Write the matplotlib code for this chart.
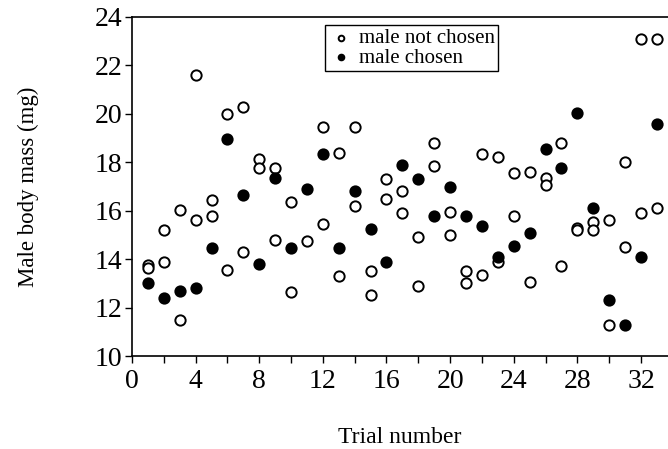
import matplotlib
matplotlib.use('Agg')
import matplotlib.pyplot as plt

# trial number / body mass of males that were not chosen
trial_not_chosen = [1, 1, 2, 2, 3, 3, 4, 4, 5, 5, 6, 6, 7, 7, 8, 8, 9, 9, 10, 10,
                    11, 12, 12, 13, 13, 14, 14, 15, 15, 16, 16, 17, 17, 18, 18,
                    19, 19, 20, 20, 21, 21, 22, 22, 23, 23, 24, 24, 25, 25,
                    26, 26, 27, 27, 28, 28, 29, 29, 30, 30, 31, 31, 32, 32, 33, 33]
mass_not_chosen = [13.75, 13.65, 15.2, 13.9, 16.05, 11.5, 21.6, 15.6, 16.45, 15.8,
                   20.0, 13.55, 20.3, 14.3, 18.15, 17.75, 17.75, 14.8, 16.35, 12.65,
                   14.75, 19.45, 15.45, 18.4, 13.3, 19.45, 16.2, 13.5, 12.5,
                   17.3, 16.5, 16.8, 15.9, 14.9, 12.9, 18.8, 17.85, 15.95, 15.0,
                   13.5, 13.0, 18.35, 13.35, 18.2, 13.9, 17.55, 15.8, 17.6, 13.05,
                   17.35, 17.05, 18.8, 13.7, 15.3, 15.2, 15.55, 15.2, 15.6, 11.3,
                   18.0, 14.5, 23.1, 15.9, 23.1, 16.1]

# one chosen male per trial
trial_chosen = list(range(1, 34))
mass_chosen = [13.0, 12.4, 12.7, 12.8, 14.45, 18.95, 16.65, 13.8, 17.35, 14.45,
               16.9, 18.35, 14.45, 16.8, 15.25, 13.9, 17.9, 17.3, 15.8, 17.0,
               15.8, 15.35, 14.1, 14.55, 15.1, 18.55, 17.75, 20.05, 16.1, 12.3,
               11.3, 14.1, 19.6]

x_ticks = list(range(0, 34, 2))
x_labels = [str(t) if t % 4 == 0 else '' for t in x_ticks]
y_ticks = list(range(10, 25, 2))

plt.rcParams['font.family'] = ['Liberation Serif', 'DejaVu Serif']

fig = plt.figure(figsize=(6.68, 4.49), dpi=100)
ax = fig.add_axes([132 / 668, 1 - 356 / 449, 536 / 668, 339 / 449])

ax.scatter(trial_not_chosen, mass_not_chosen, s=55, facecolor='white',
           edgecolor='black', linewidth=1.4, zorder=3, label='male not chosen')
ax.scatter(trial_chosen, mass_chosen, s=55, facecolor='black',
           edgecolor='black', linewidth=1.4, zorder=4, label='male chosen')

ax.set_xlim(0, 33.7)
ax.set_ylim(10, 24)
ax.set_xticks(x_ticks)
ax.set_xticklabels(x_labels)
ax.set_yticks(y_ticks)
ax.tick_params(direction='out', length=5, width=1, labelsize=20, pad=2)
ax.tick_params(axis='x', pad=4)
ax.spines['right'].set_visible(False)
for s in ['left', 'bottom', 'top']:
    ax.spines[s].set_linewidth(1.2)

ax.set_ylabel('Male body mass (mg)', fontsize=16.5, labelpad=40)
ax.set_xlabel('Trial number', fontsize=17, labelpad=24)

leg = ax.legend(loc='upper left', bbox_to_anchor=(0.36, 0.975), fontsize=15,
                frameon=True, fancybox=False, framealpha=1, edgecolor='black',
                markerscale=0.55, handletextpad=0.3, labelspacing=0.0,
                borderpad=0.15, handlelength=1.2, borderaxespad=0)
leg.get_frame().set_linewidth(1.0)

plt.savefig('out.png', dpi=100)
